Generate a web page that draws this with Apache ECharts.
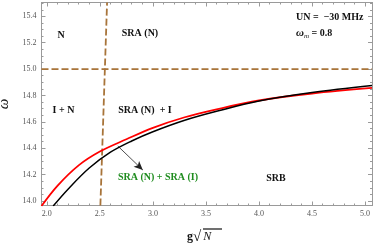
<!DOCTYPE html>
<html>
<head>
<meta charset="utf-8">
<script src="https://cdn.jsdelivr.net/npm/echarts@6/dist/echarts.min.js"></script>
<style>html,body{margin:0;padding:0;background:#fff}#c{width:374px;height:247px}</style>
</head>
<body>
<div id="c"></div>
<script>
// ---- data ----
var redX = [1.95, 2.1, 2.3, 2.5, 2.75, 3.0, 3.3, 3.6, 4.0, 4.5, 5.065];
var redY = [13.962, 14.115, 14.27, 14.375, 14.468, 14.555, 14.635, 14.695, 14.762, 14.815, 14.857];
var blackX = [2.06, 2.2, 2.4, 2.6, 2.8, 3.0, 3.3, 3.6, 4.0, 4.5, 5.065];
var blackY = [13.962, 14.09, 14.25, 14.37, 14.455, 14.525, 14.612, 14.68, 14.758, 14.822, 14.875];
var hLineX = [1.95, 5.065];
var hLineY = [15.0, 15.0];
var vLineX = [2.505, 2.568];
var vLineY = [13.966, 15.505];
var arrowFrom = [2.669, 14.417];
var arrowTo = [2.905, 14.235];
var xTicks = [2.0, 2.5, 3.0, 3.5, 4.0, 4.5, 5.0];
var yTicks = [14.0, 14.2, 14.4, 14.6, 14.8, 15.0, 15.2, 15.4];
var xMin = 1.95, xMax = 5.065, yMin = 13.966, yMax = 15.505;

function zip(a, b) { return a.map(function (v, i) { return [v, b[i]]; }); }
var xMinor = [], yMinor = [];
for (var i = 20; i <= 50; i++) xMinor.push(i / 10);
for (var j = 280; j <= 310; j++) yMinor.push(j / 20);

var serif = "'Liberation Serif', 'DejaVu Serif', serif";
var axisCol = '#9a9a9a';
var labCol = '#555';

function xAx(pos, vals, len, labels) {
  return {
    type: 'value', position: pos, min: xMin, max: xMax, gridIndex: 0,
    axisLine: { show: true, onZero: false, lineStyle: { color: axisCol, width: 1 } },
    axisTick: { show: true, inside: true, length: len, customValues: vals, lineStyle: { color: axisCol } },
    axisLabel: labels ? { show: true, customValues: vals, margin: 4, color: labCol, fontFamily: serif, fontSize: 8,
      formatter: function (v) { return v.toFixed(1); } } : { show: false },
    splitLine: { show: false }
  };
}
function yAx(pos, vals, len, labels) {
  return {
    type: 'value', position: pos, min: yMin, max: yMax, gridIndex: 0,
    axisLine: { show: true, onZero: false, lineStyle: { color: axisCol, width: 1 } },
    axisTick: { show: true, inside: true, length: len, customValues: vals, lineStyle: { color: axisCol } },
    axisLabel: labels ? { show: true, customValues: vals, margin: 5, color: labCol, fontFamily: serif, fontSize: 8,
      formatter: function (v) { return v.toFixed(1); } } : { show: false },
    splitLine: { show: false }
  };
}

var xAxes = [xAx('bottom', xTicks, 4, true), xAx('bottom', xMinor, 2, false), xAx('top', xTicks, 4, false), xAx('top', xMinor, 2, false)];
var yAxes = [yAx('left', yTicks, 4, true), yAx('left', yMinor, 2, false), yAx('right', yTicks, 4, false), yAx('right', yMinor, 2, false)];
yAxes[0].name = 'ω';
yAxes[0].nameLocation = 'middle';
yAxes[0].nameRotate = 90;
yAxes[0].nameGap = 30;
yAxes[0].nameTextStyle = { fontFamily: serif, fontStyle: 'italic', fontSize: 15, color: '#222' };

var chart = echarts.init(document.getElementById('c'), null, { renderer: 'canvas' });
var bold = { fontFamily: serif, fontWeight: 'bold', fontSize: 10, fill: '#111' };
function txt(x, y, s, extra) {
  var st = Object.assign({}, bold, { x: x, y: y, text: s, textAlign: 'center', textVerticalAlign: 'middle' }, extra || {});
  return { type: 'text', style: st, z: 10 };
}

chart.setOption({
  animation: false,
  grid: { left: 41.5, right: 2, top: 2.5, bottom: 41.5, containLabel: false, outerBoundsMode: 'none' },
  xAxis: xAxes,
  yAxis: yAxes,
  series: [
    { type: 'line', data: zip(hLineX, hLineY), symbol: 'none', silent: true,
      lineStyle: { color: '#a8743a', width: 1.8, type: [7, 3] } },
    { type: 'line', data: zip(vLineX, vLineY), symbol: 'none', silent: true,
      lineStyle: { color: '#a8743a', width: 1.8, type: [7, 3] } },
    { type: 'line', data: zip(redX, redY), symbol: 'none', smooth: 0.35, clip: true,
      lineStyle: { color: '#ff0000', width: 1.8 }, z: 4 },
    { type: 'line', data: zip(blackX, blackY), symbol: 'none', smooth: 0.35, clip: true,
      lineStyle: { color: '#000', width: 1.5 }, z: 5,
      markLine: { silent: true, symbol: ['none', 'arrow'], symbolSize: [6, 9], label: { show: false },
        lineStyle: { color: '#222', width: 0.8, type: 'solid' },
        data: [[{ coord: arrowFrom }, { coord: arrowTo }]] } }
  ],
  graphic: [
    txt(61, 35, 'N'),
    txt(140, 33, 'SRA (N)'),
    txt(63.5, 110, 'I + N'),
    txt(145, 110, 'SRA (N)  + I'),
    txt(276, 178, 'SRB'),
    txt(158, 177, 'SRA (N) + SRA (I)', { fill: '#1e8c1e' }),
    txt(296, 17, 'UN =  \u221230 MHz', { textAlign: 'left' }),
    { type: 'text', z: 10, style: { x: 296, y: 33, textAlign: 'left', textVerticalAlign: 'middle',
      text: '{w|ω}{m|m}{t| = 0.8}',
      rich: {
        w: { fontFamily: serif, fontStyle: 'italic', fontWeight: 'bold', fontSize: 11, fill: '#111' },
        m: { fontFamily: serif, fontStyle: 'italic', fontSize: 7, fill: '#111', padding: [6, 0, 0, 0] },
        t: { fontFamily: serif, fontWeight: 'bold', fontSize: 10, fill: '#111' }
      } } },
    { type: 'text', z: 10, style: { x: 187, y: 237, textAlign: 'left', textVerticalAlign: 'middle',
      text: '{g|g}{r|\u221A}{n|N}',
      rich: {
        g: { fontFamily: serif, fontWeight: 'bold', fontSize: 12, fill: '#111' },
        r: { fontFamily: serif, fontWeight: 'bold', fontSize: 15, fill: '#111' },
        n: { fontFamily: serif, fontStyle: 'italic', fontSize: 12, fill: '#111', padding: [0, 0, 0, 2] }
      } } },
    { type: 'line', z: 10, shape: { x1: 203, y1: 229, x2: 222, y2: 229 }, style: { stroke: '#111', lineWidth: 1.2 } }
  ]
});
</script>
</body>
</html>
